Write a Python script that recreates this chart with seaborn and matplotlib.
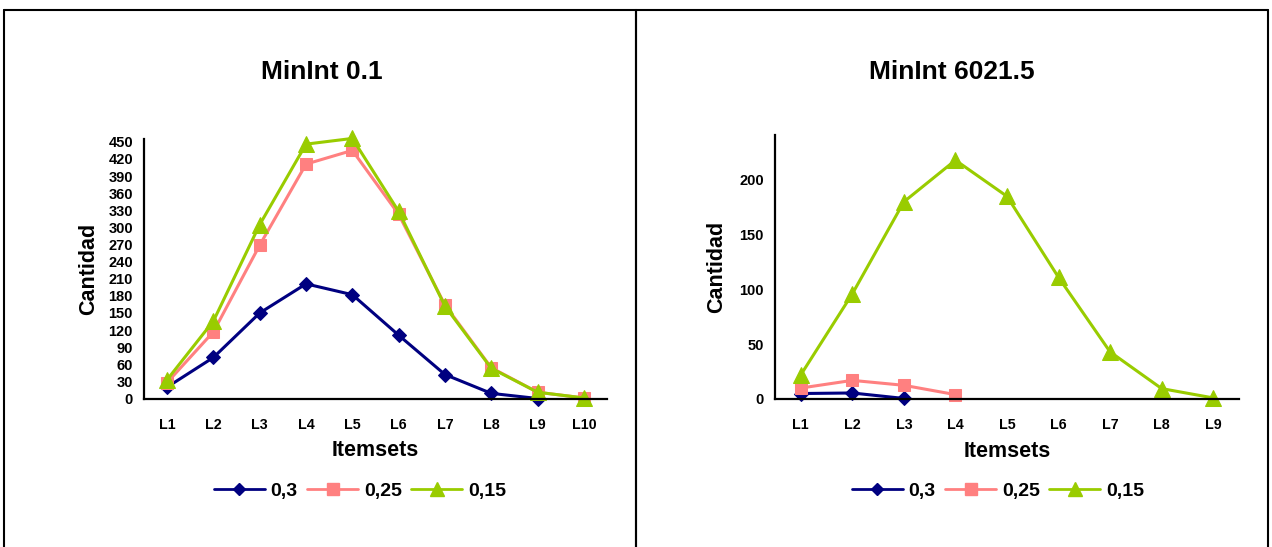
import numpy as np
import pandas as pd
import seaborn as sns
import matplotlib
matplotlib.use("Agg")
import matplotlib.pyplot as plt
from matplotlib.lines import Line2D

# ---- data ----
series_names = ["0,3", "0,25", "0,15"]

left_title = "MinInt 0.1"
left_categories = ["L1", "L2", "L3", "L4", "L5", "L6", "L7", "L8", "L9", "L10"]
left_03 = [20, 72, 150, 201, 182, 111, 42, 9, 0]
left_025 = [28, 117, 269, 411, 435, 323, 164, 54, 11, 1]
left_015 = [33, 136, 305, 446, 456, 328, 162, 53, 11, 1]
left_yticks = list(range(0, 451, 30))

right_title = "MinInt 6021.5"
right_categories = ["L1", "L2", "L3", "L4", "L5", "L6", "L7", "L8", "L9"]
right_03 = [5, 5.5, 0.5]
right_025 = [10, 17, 12.5, 4]
right_015 = [22, 96, 180, 218, 185, 111, 43, 9.5, 1]
right_yticks = [0, 50, 100, 150, 200]

colors = {"0,3": "#000080", "0,25": "#FF8080", "0,15": "#99CC00"}
markers = {"0,3": "D", "0,25": "s", "0,15": "^"}
msizes = {"0,3": 7, "0,25": 9, "0,15": 11}

sns.set_theme(style="white")
plt.rcParams["font.family"] = ["Liberation Sans", "DejaVu Sans"]
plt.rcParams["font.weight"] = "bold"
plt.rcParams["text.color"] = "black"
plt.rcParams["axes.labelcolor"] = "black"
plt.rcParams["xtick.color"] = "black"
plt.rcParams["ytick.color"] = "black"

W, H = 1272, 547
fig = plt.figure(figsize=(W / 100, H / 100), dpi=100)
fig.patch.set_facecolor("white")


def px_rect(x0, x1, ytop, ybot):
    return [x0 / W, 1 - ybot / H, (x1 - x0) / W, (ybot - ytop) / H]


def draw_panel(ax, cats, data, yticks, ymax):
    frames = []
    for name, vals in zip(series_names, data):
        frames.append(pd.DataFrame({"pos": np.arange(len(vals)), "val": vals, "serie": name}))
    df = pd.concat(frames, ignore_index=True)
    for name in series_names:
        sub = df[df["serie"] == name]
        sns.lineplot(data=sub, x="pos", y="val", ax=ax, color=colors[name],
                     marker=markers[name], markersize=msizes[name],
                     markeredgecolor=colors[name], linewidth=2.2,
                     legend=False, sort=False, errorbar=None)
    n = len(cats)
    ax.set_xlim(-0.5, n - 0.5)
    ax.set_ylim(0, ymax)
    ax.set_xticks(np.arange(-0.5, n, 1.0))
    ax.set_xticklabels([])
    ax.set_xticks(np.arange(n), minor=True)
    ax.set_xticklabels(cats, minor=True, fontsize=10.3, fontweight="bold", color="black")
    ax.tick_params(axis="x", which="major", direction="out", length=5, width=1.5, color="black")
    ax.tick_params(axis="x", which="minor", length=0, pad=14)
    ax.set_yticks(yticks)
    ax.set_yticklabels([str(v) for v in yticks], fontsize=10.5, fontweight="bold", color="black")
    ax.tick_params(axis="y", direction="out", length=5, width=1.5, color="black", pad=3)
    for s in ["top", "right"]:
        ax.spines[s].set_visible(False)
    for s in ["left", "bottom"]:
        ax.spines[s].set_color("black")
        ax.spines[s].set_linewidth(1.6)
    ax.set_xlabel("Itemsets", fontsize=15.5, fontweight="bold", labelpad=6, color="black")
    ax.set_ylabel("Cantidad", fontsize=15.5, fontweight="bold", color="black")
    ax.set_facecolor("white")
    for line in ax.lines:
        line.set_clip_on(False)


axL = fig.add_axes(px_rect(144, 607, 139, 398.5))
draw_panel(axL, left_categories, [left_03, left_025, left_015], left_yticks, 455)
axL.yaxis.set_label_coords(-0.098, 0.5)

axR = fig.add_axes(px_rect(775, 1239, 135, 399))
draw_panel(axR, right_categories, [right_03, right_025, right_015], right_yticks, 241)
axR.yaxis.set_label_coords(-0.104, 0.5)

fig.text(322 / W, 1 - 72 / H, left_title, ha="center", va="center", fontsize=19, fontweight="bold", color="black")
fig.text(952 / W, 1 - 72 / H, right_title, ha="center", va="center", fontsize=19, fontweight="bold", color="black")

handles = [Line2D([], [], color=colors[n], marker=markers[n], markersize=msizes[n] - 1,
                  markeredgecolor=colors[n], linewidth=2.0) for n in series_names]
for cx in (360, 998):
    fig.legend(handles, series_names, loc="center", bbox_to_anchor=(cx / W, 1 - 491 / H),
               ncol=3, frameon=False, prop={"size": 14, "weight": "bold"},
               handlelength=2.6, handletextpad=0.3, columnspacing=0.5, borderpad=0,
               labelcolor="black")

# panel frames
lw = 1.5
for (x0, x1) in [(4, 636), (636, 1268)]:
    for xs, ys in [([x0, x1], [9.5, 9.5]), ([x0, x0], [9.5, 560]), ([x1, x1], [9.5, 560])]:
        fig.add_artist(Line2D([x / W for x in xs], [1 - y / H for y in ys],
                              color="black", linewidth=lw, transform=fig.transFigure))

fig.savefig("out.png", dpi=100, facecolor="white")
